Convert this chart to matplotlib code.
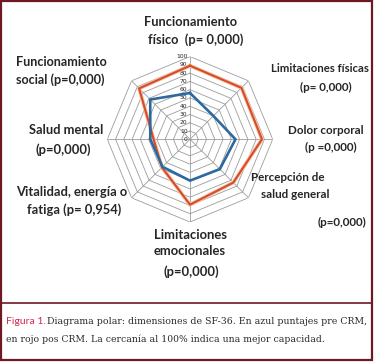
import numpy as np
import matplotlib
matplotlib.use("Agg")
import matplotlib.pyplot as plt
from matplotlib.patches import Rectangle
from matplotlib.lines import Line2D
import matplotlib.transforms as mtransforms

# ---- data ----
categories = ["Funcionamiento físico", "Limitaciones físicas", "Dolor corporal",
              "Percepción de salud general", "Limitaciones emocionales",
              "Vitalidad, energía o fatiga", "Salud mental", "Funcionamiento social"]
pre_crm = [56, 40, 55, 51, 50, 47, 48, 68]
post_crm = [89, 88, 87, 74, 79, 48, 44, 87]
ring_levels = [10, 20, 30, 40, 50, 60, 70, 80, 90, 100]
tick_labels = ["0", "10", "20", "30", "40", "50", "60", "70", "80", "90", "100"]

W, H = 375, 364
fig = plt.figure(figsize=(W / 100, H / 100), dpi=100)
fig.patch.set_facecolor("white")


def fx(px):
    return px / W


def fy(py):
    return 1 - py / H


# polar axes centred at (190,139) px with radius 82.7 px
cx, cy, R = 190, 139.3, 82.7
ax = fig.add_axes([fx(cx - R), fy(cy + R), 2 * R / W, 2 * R / H], projection="polar")
ax.set_theta_offset(np.pi / 2)
ax.set_theta_direction(-1)
ax.set_ylim(0, 100)
ax.grid(False)
ax.spines["polar"].set_visible(False)
ax.set_xticks([])
ax.set_yticks([])
ax.patch.set_alpha(0)

n = len(categories)
angles = np.linspace(0, 2 * np.pi, n, endpoint=False)
closed = np.append(angles, angles[0])

grid_col = "#9c9c9c"
for r in ring_levels:
    ax.plot(closed, [r] * (n + 1), color=grid_col, lw=0.6, zorder=1)
for a in angles:
    ax.plot([a, a], [0, 100], color=grid_col, lw=0.6, zorder=1)

# radial tick labels
off = mtransforms.offset_copy(ax.transData, fig=fig, x=-2.5, y=0, units="dots")
for i, lab in enumerate(tick_labels):
    ax.text(0, i * 10, lab, transform=off, ha="right", va="center",
            fontsize=4.3, color="#222222", family="DejaVu Sans", zorder=3)

pre_c = np.append(pre_crm, pre_crm[0])
post_c = np.append(post_crm, post_crm[0])
ax.plot(closed, post_c, color="#f6c7a8", lw=2.8, zorder=4, solid_joinstyle="miter")
ax.plot(closed, post_c, color="#d64b2a", lw=1.5, zorder=5, solid_joinstyle="miter")
ax.plot(closed, pre_c, color="#2c69a0", lw=1.9, zorder=6, solid_joinstyle="miter")

# category labels: (text, x px, y px, ha, fontsize)
labels = [
    ("Funcionamiento", 191, 22, "center", 9.3),
    ("físico  (p= 0,000)", 196, 40, "center", 9.3),
    ("Funcionamiento", 16, 62, "left", 9.1),
    ("social (p=0,000)", 16, 80, "left", 9.1),
    ("Salud mental", 66, 130, "center", 9.3),
    ("(p=0,000)", 63, 150, "center", 9.3),
    ("Vitalidad, energía o", 72, 192, "center", 9.3),
    ("fatiga (p= 0,954)", 74, 210, "center", 9.3),
    ("Limitaciones físicas", 320, 69, "center", 8.2),
    ("(p= 0,000)", 326, 87, "center", 8.4),
    ("Dolor corporal", 326, 130, "center", 8.4),
    ("(p =0,000)", 331, 147, "center", 8.4),
    ("Percepción de", 288, 177, "center", 8.4),
    ("salud general", 295, 194, "center", 8.4),
    ("(p=0,000)", 342, 222, "center", 8.4),
    ("Limitaciones", 190, 235, "center", 9.4),
    ("emocionales", 190, 251, "center", 9.4),
    ("(p=0,000)", 191, 272, "center", 9.4),
]
for txt, x, y, ha, fs in labels:
    fig.text(fx(x), fy(y), txt, ha=ha, va="center", fontsize=fs, fontweight="bold",
             color="#262626", family="Lato")

# frame
border = "#6d1a22"
fig.patches.append(Rectangle((fx(1), fy(359.5)), fx(372) - fx(1), fy(1) - fy(359.5),
                             transform=fig.transFigure, fill=False,
                             edgecolor=border, lw=1.6))
fig.lines.append(Line2D([fx(1), fx(372)], [fy(303.3), fy(303.3)],
                        transform=fig.transFigure, color=border, lw=1.2))

# caption
fig.text(fx(6), fy(322), "Figura 1.", ha="left", va="center", fontsize=7.5,
         color="#d8264f", family="Lato")
fig.text(fx(47), fy(322), "Diagrama polar: dimensiones de SF-36. En azul puntajes pre CRM,",
         ha="left", va="center", fontsize=6.75, color="#2a2a2a", family="DejaVu Serif")
fig.text(fx(6), fy(339), "en rojo pos CRM. La cercanía al 100% indica una mejor capacidad.",
         ha="left", va="center", fontsize=6.7, color="#2a2a2a", family="DejaVu Serif")

fig.savefig("out.png", dpi=100)
